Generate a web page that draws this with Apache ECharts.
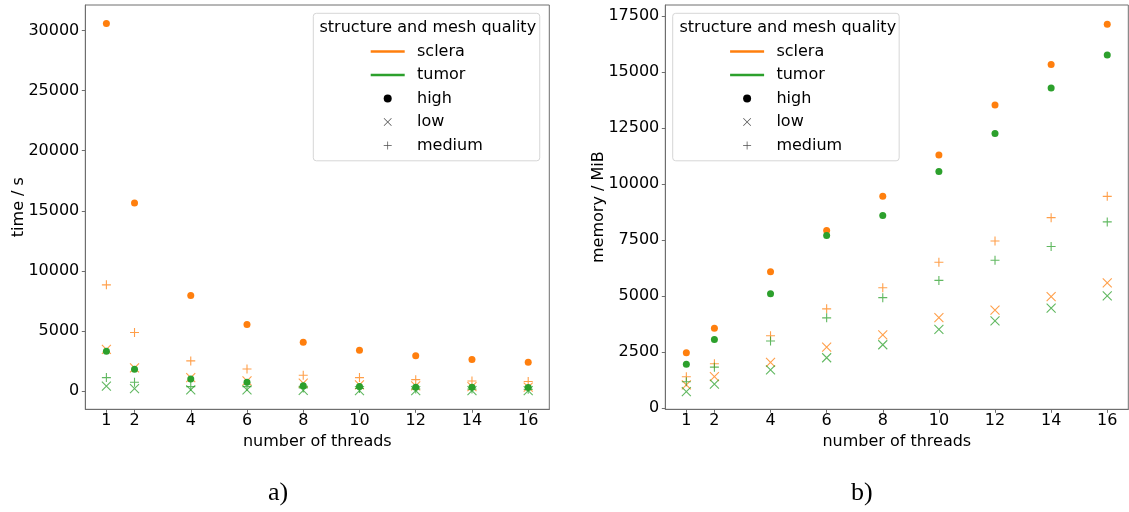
<!DOCTYPE html>
<html>
<head>
<meta charset="utf-8">
<script src="https://cdn.jsdelivr.net/npm/echarts@6/dist/echarts.min.js"></script>
<style>
html,body{margin:0;padding:0;background:#fff;}
#main{width:1129px;height:512px;}
</style>
</head>
<body>
<div id="main"></div>
<script>
// ---- data ----
const threads = [1, 2, 4, 6, 8, 10, 12, 14, 16];
const timeTicks = [0, 5000, 10000, 15000, 20000, 25000, 30000];
const memTicks = [0, 2500, 5000, 7500, 10000, 12500, 15000, 17500];

const timeScleraHigh   = [30600, 15650, 7950, 5530, 4060, 3390, 2920, 2610, 2390];
const timeScleraLow    = [3450, 1920, 1110, 830, 640, 500, 420, 360, 310];
const timeScleraMedium = [8830, 4860, 2500, 1830, 1310, 1110, 940, 830, 780];
const timeTumorHigh    = [3310, 1810, 1000, 720, 440, 360, 310, 300, 280];
const timeTumorLow     = [400, 200, 80, 80, 40, 30, 30, 30, 30];
const timeTumorMedium  = [1110, 720, 360, 360, 250, 200, 170, 150, 130];

const memScleraHigh   = [2470, 3570, 6090, 7930, 9450, 11290, 13520, 15330, 17130];
const memScleraLow    = [1040, 1410, 2040, 2720, 3270, 4040, 4370, 4980, 5590];
const memScleraMedium = [1400, 1980, 3230, 4430, 5370, 6510, 7460, 8500, 9450];
const memTumorHigh    = [1960, 3060, 5110, 7700, 8590, 10560, 12250, 14280, 15750];
const memTumorLow     = [740, 1070, 1710, 2250, 2830, 3520, 3890, 4460, 5010];
const memTumorMedium  = [1180, 1830, 3000, 4030, 4930, 5700, 6600, 7210, 8310];

// ---- styles ----
const ORANGE = '#ff7f0e', GREEN = '#2ca02c';
const FONT = 'DejaVu Sans';
const AXIS_COLOR = '#6e6e6e';
const X_PATH = 'path://M0,0L10,10M10,0L0,10';
const PLUS_PATH = 'path://M5,0L5,10M0,5L10,5';
const LINE_ICON = 'path://M0,0H34V2.4H0Z';
const X_ICON = 'path://M0,0.6L0.6,0L5,4.4L9.4,0L10,0.6L5.6,5L10,9.4L9.4,10L5,5.6L0.6,10L0,9.4L4.4,5Z';
const PLUS_ICON = 'path://M4.55,0H5.45V4.55H10V5.45H5.45V10H4.55V5.45H0V4.55H4.55Z';

function pts(arr) { return threads.map((t, i) => [t, arr[i]]); }

function markerSeries(name, arr, color, quality, axisIdx) {
  const base = { name: name, type: 'scatter', xAxisIndex: axisIdx, yAxisIndex: axisIdx, data: pts(arr), silent: true, animation: false };
  if (quality === 'high') {
    base.symbol = 'circle';
    base.symbolSize = 7;
    base.itemStyle = { color: color, opacity: 1 };
  } else {
    base.symbol = quality === 'low' ? X_PATH : PLUS_PATH;
    base.symbolSize = 9;
    base.itemStyle = { color: 'none', borderColor: color, borderWidth: 1.1, opacity: 0.75 };
  }
  return base;
}

const series = [
  markerSeries('time sclera high', timeScleraHigh, ORANGE, 'high', 0),
  markerSeries('time sclera low', timeScleraLow, ORANGE, 'low', 0),
  markerSeries('time sclera medium', timeScleraMedium, ORANGE, 'medium', 0),
  markerSeries('time tumor high', timeTumorHigh, GREEN, 'high', 0),
  markerSeries('time tumor low', timeTumorLow, GREEN, 'low', 0),
  markerSeries('time tumor medium', timeTumorMedium, GREEN, 'medium', 0),
  markerSeries('mem sclera high', memScleraHigh, ORANGE, 'high', 1),
  markerSeries('mem sclera low', memScleraLow, ORANGE, 'low', 1),
  markerSeries('mem sclera medium', memScleraMedium, ORANGE, 'medium', 1),
  markerSeries('mem tumor high', memTumorHigh, GREEN, 'high', 1),
  markerSeries('mem tumor low', memTumorLow, GREEN, 'low', 1),
  markerSeries('mem tumor medium', memTumorMedium, GREEN, 'medium', 1),
  // legend-only entries
  { name: 'sclera', type: 'scatter', data: [], itemStyle: { color: ORANGE, opacity: 1 } },
  { name: 'tumor', type: 'scatter', data: [], itemStyle: { color: GREEN, opacity: 1 } },
  { name: 'high', type: 'scatter', data: [], itemStyle: { color: '#000', opacity: 1 } },
  { name: 'low', type: 'scatter', data: [], itemStyle: { color: '#000', opacity: 0.7 } },
  { name: 'medium', type: 'scatter', data: [], itemStyle: { color: '#000', opacity: 0.7 } }
];

const legendData = [
  { name: 'sclera', icon: LINE_ICON },
  { name: 'tumor', icon: LINE_ICON },
  { name: 'high', icon: 'circle' },
  { name: 'low', icon: X_ICON },
  { name: 'medium', icon: PLUS_ICON }
];

function legendAt(left) {
  return {
    orient: 'vertical', left: left, top: 13.3,
    data: legendData, selectedMode: false,
    itemWidth: 34, itemHeight: 8, itemGap: 0,
    padding: [26.5, 57, 3.5, 57.4],
    backgroundColor: 'rgba(255,255,255,0.8)',
    borderColor: '#d6d6d6', borderWidth: 1, borderRadius: 3,
    align: 'left',
    textStyle: { fontFamily: FONT, fontSize: 16, color: '#000', lineHeight: 23.5, padding: [0, 0, 0, 7.3] }
  };
}

function plainNum(v) { return String(v); }

function xAxisDef(gridIndex) {
  return {
    gridIndex: gridIndex, type: 'value', min: 0.25, max: 16.75,
    name: 'number of threads', nameLocation: 'middle', nameGap: 22,
    nameTextStyle: { fontFamily: FONT, fontSize: 16, color: '#000' },
    axisLine: { show: true, onZero: false, lineStyle: { color: AXIS_COLOR, width: 1 } },
    axisTick: { show: true, length: 3.5, customValues: threads, lineStyle: { color: AXIS_COLOR } },
    axisLabel: { customValues: threads, formatter: plainNum, fontFamily: FONT, fontSize: 16, color: '#000', margin: 4 },
    splitLine: { show: false }
  };
}

function yAxisDef(gridIndex, min, max, ticks, name, gap) {
  return {
    gridIndex: gridIndex, type: 'value', min: min, max: max,
    name: name, nameLocation: 'middle', nameGap: gap, nameRotate: 90,
    nameMoveOverlap: false,
    nameTextStyle: { fontFamily: FONT, fontSize: 16, color: '#000' },
    axisLine: { show: true, onZero: false, lineStyle: { color: AXIS_COLOR, width: 1 } },
    axisTick: { show: true, length: 3.5, customValues: ticks, lineStyle: { color: AXIS_COLOR } },
    axisLabel: { customValues: ticks, formatter: plainNum, fontFamily: FONT, fontSize: 16, color: '#000', margin: 6 },
    splitLine: { show: false }
  };
}

const option = {
  backgroundColor: '#fff',
  animation: false,
  title: [
    { text: 'structure and mesh quality', left: 319.5, top: 19.5, padding: 0,
      textStyle: { fontFamily: FONT, fontSize: 16, fontWeight: 'normal', color: '#000' } },
    { text: 'structure and mesh quality', left: 679.5, top: 19.5, padding: 0,
      textStyle: { fontFamily: FONT, fontSize: 16, fontWeight: 'normal', color: '#000' } },
    { text: 'a)', left: 268, top: 480, padding: 0,
      textStyle: { fontFamily: 'Liberation Serif', fontSize: 26, fontWeight: 'normal', color: '#000' } },
    { text: 'b)', left: 851, top: 480, padding: 0,
      textStyle: { fontFamily: 'Liberation Serif', fontSize: 26, fontWeight: 'normal', color: '#000' } }
  ],
  legend: [legendAt(313.3), legendAt(672.7)],
  grid: [
    { left: 85.3, top: 5, width: 464, height: 404.3, show: true, borderColor: AXIS_COLOR, borderWidth: 1, backgroundColor: 'transparent', containLabel: false },
    { left: 665.3, top: 5, width: 463, height: 404.3, show: true, borderColor: AXIS_COLOR, borderWidth: 1, backgroundColor: 'transparent', containLabel: false }
  ],
  xAxis: [xAxisDef(0), xAxisDef(1)],
  yAxis: [
    yAxisDef(0, -1530, 32130, timeTicks, 'time / s', 58),
    yAxisDef(1, -50, 17985, memTicks, 'memory / MiB', 58)
  ],
  series: series
};

const chart = echarts.init(document.getElementById('main'), null, { renderer: 'canvas' });
chart.setOption(option);
</script>
</body>
</html>
